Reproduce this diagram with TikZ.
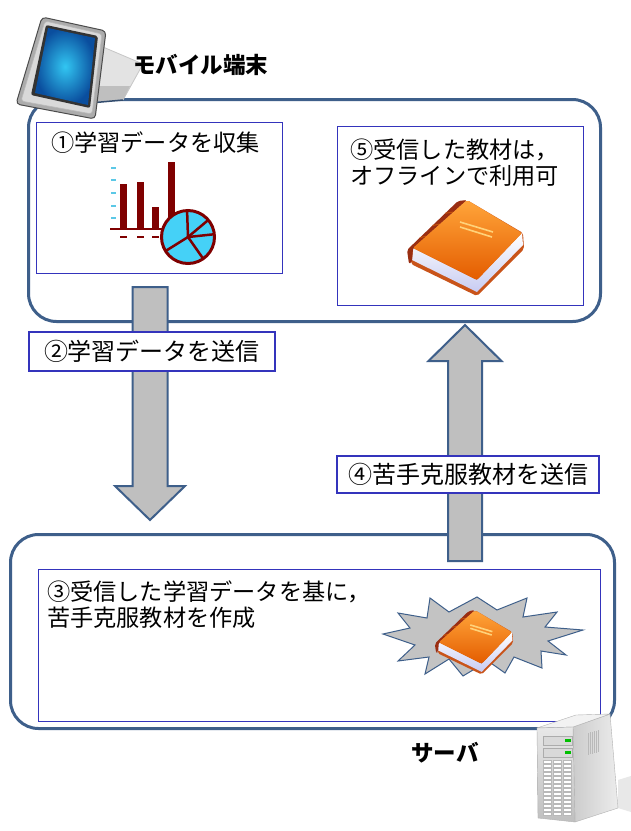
\documentclass[tikz,border=0pt]{standalone}
\usepackage{fontspec}
\newfontfamily\jp{Noto Sans CJK JP}
\usetikzlibrary{calc}
\definecolor{panelline}{HTML}{3E5F8A}
\definecolor{boxblue}{HTML}{3434BC}
\definecolor{arrowgray}{HTML}{BFBFBF}
\definecolor{darkred}{HTML}{7F0000}
\definecolor{piecyan}{HTML}{45D1F7}
\definecolor{tickcyan}{HTML}{5BC8E6}
\definecolor{screenlight}{HTML}{32C6F2}
\definecolor{screendark}{HTML}{0A4E9E}
\definecolor{coverlight}{HTML}{FFA53A}
\definecolor{coverdark}{HTML}{E45C00}
\definecolor{spinecol}{HTML}{9A2E12}
\definecolor{backcol}{HTML}{C9541A}
\definecolor{pagelav}{HTML}{C8CCF2}
\definecolor{stripecol}{HTML}{FFD27A}
\definecolor{burstgray}{HTML}{C3C3C3}
\tikzset{
  panel/.style={draw=panelline, line width=3pt, rounded corners=28pt, anchor=north west, inner sep=0pt},
  stepbox/.style={draw=boxblue, line width=1.4pt, fill=white, anchor=north west, inner sep=0pt},
  tag/.style={draw=boxblue, line width=1.4pt, fill=white, inner sep=0pt, font=\jp\fontsize{24}{26}\selectfont},
  txt/.style={inner sep=0pt, font=\jp\fontsize{23.2}{26}\selectfont, align=left},
  title/.style={inner sep=0pt, font=\jp\bfseries\fontsize{22.5}{26}\selectfont},
  blockarrow/.style={fill=arrowgray, draw=panelline, line width=2pt, line join=miter},
  bookicon/.pic={
    % back cover edge
    \fill[backcol, rounded corners=2pt] (-3,40) -- (53,7) -- (54,-9) -- (7,-56) -- (-59,-24) -- (-58,-8) -- cycle;
    % page block
    \shade[top color=white, bottom color=pagelav] (-57,-8) -- (7,-40) -- (52,7) -- (53,-5) -- (7,-52) -- (-58,-20) -- cycle;
    % spine
    \fill[spinecol, rounded corners=2pt] (-3,40) -- (-12,39) -- (-63,-10) -- (-61,-24) -- (-58,-22) -- (-57,-8) -- cycle;
    \foreach \t in {0.25,0.5,0.75}
      \draw[spinecol!60!orange, line width=1pt] ($(-3,40)!\t!(-57,-8)$) -- ($(-12,39)!\t!(-63,-10)$);
    % front cover
    \shade[top color=coverlight, bottom color=coverdark, rounded corners=2pt] (-3,40) -- (52,7) -- (7,-40) -- (-57,-8) -- cycle;
    \draw[stripecol, line width=1.6pt] (-10,18) -- (23,8) (-10,13) -- (22,3);
  }
}
\begin{document}
\begin{tikzpicture}[x=1pt,y=-1pt]
\useasboundingbox (0,0) rectangle (631,831);
\fill[white] (0,0) rectangle (631,831);

% the two device panels
\node[panel, minimum width=572pt, minimum height=222pt] (mobile) at (27,98) {};
\node[panel, minimum width=604pt, minimum height=194pt] (server) at (9,533) {};

% transfer arrows between the panels
\coordinate (d1) at (150,287);
\coordinate (d2) at (150,520);
\coordinate (u1) at (465,561);
\coordinate (u2) at (465,325);
\draw[blockarrow] ($(d1)+(-17.5,0)$) -- ($(d2)+(-17.5,-34)$) -- ($(d2)+(-35,-34)$) -- (d2)
   -- ($(d2)+(35,-34)$) -- ($(d2)+(17.5,-34)$) -- ($(d1)+(17.5,0)$) -- cycle;
\draw[blockarrow] ($(u1)+(-17,0)$) -- ($(u2)+(-17,36)$) -- ($(u2)+(-36.5,36)$) -- (u2)
   -- ($(u2)+(36.5,36)$) -- ($(u2)+(17,36)$) -- ($(u1)+(17,0)$) -- cycle;

% arrow labels
\node[tag, minimum width=246pt, minimum height=39pt] (send) at (152,351.5) {②学習データを送信};
\node[tag, minimum width=262pt, minimum height=37pt] (back) at (468,474.5) {④苦手克服教材を送信};

% step boxes
\node[stepbox, minimum width=246pt, minimum height=151pt] (collect) at (36,122) {};
\node[stepbox, minimum width=246pt, minimum height=179pt] (offline) at (337,126) {};
\node[stepbox, minimum width=562pt, minimum height=152pt] (create) at (38,569) {};

% step texts
\node[txt, anchor=west] (t1) at (51,143) {①学習データを収集};
\node[txt, anchor=west] (t5) at (350,162.5) {⑤受信した教材は，\\オフラインで利用可};
\node[txt, anchor=west] (t3) at (47,605) {③受信した学習データを基に，\\苦手克服教材を作成};

% chart icon
\foreach \yy in {168,180,193,206,218}
  \draw[tickcyan, line width=2pt] (111,\yy) -- (116,\yy);
\fill[darkred] (120,184) rectangle (127,229);
\fill[darkred] (137,182) rectangle (144,229);
\fill[darkred] (152,207) rectangle (159,229);
\fill[darkred] (168,162) rectangle (175,229);
\draw[darkred, line width=2.2pt] (110,229) -- (166,229);
\foreach \xx in {120,137,152}
  \draw[darkred, line width=2pt] (\xx,237) -- ++(7,0);
\filldraw[fill=piecyan, draw=darkred, line width=3pt] (188,237) circle (26.5);
\begin{scope}[shift={(188,237)}, yscale=-1]
  \foreach \a in {92,40,6,-55,-148}
    \draw[darkred, line width=2.5pt] (0,0) -- (\a:26);
\end{scope}

% book icons
\pic[yscale=-1] at (470,240) {bookicon};
\fill[burstgray, draw=panelline, line width=1pt, line join=miter]
  (383,634) -- (410,628) -- (398,613) -- (427,618) -- (430,598) -- (449,612) -- (477,597)
  -- (497,610) -- (527,598) -- (523,617) -- (557,612) -- (545,627) -- (583,630) -- (548,641)
  -- (566,655) -- (541,651) -- (542,668) -- (514,657) -- (505,673) -- (488,661) -- (463,676)
  -- (449,659) -- (425,674) -- (429,657) -- (398,661) -- (415,645) -- cycle;
\pic[xscale=0.67, yscale=-0.67] at (477,637) {bookicon};

% tablet on its stand
\fill[gray!22] (103,47) -- (143,64) -- (123,100) -- (90,103) -- cycle;
\draw[gray!45, line width=.8pt] (103,47) -- (143,64) -- (123,100);
\fill[gray!50] (92,86) -- (130,86) -- (123,100) -- (90,103) -- cycle;
\draw[panelline!80!black, line width=1.5pt] (90,103) -- (123,100);
\filldraw[fill=gray!65, draw=black!70, line width=1pt, rounded corners=4pt]
  (42,17) -- (106,31) -- (95,119) -- (16,104) -- cycle;
\filldraw[fill=gray!30, draw=gray!55, line width=.6pt, rounded corners=3pt]
  (45,21) -- (102,34) -- (92,114) -- (21,101) -- cycle;
\fill[black!80, rounded corners=2pt] (46,25) -- (98,36) -- (90,108) -- (31,95) -- cycle;
\shade[inner color=screenlight, outer color=screendark] (48,28) -- (95,38) -- (88,105) -- (35,93) -- cycle;

% captions
\node[title, anchor=west] (mobcap) at (133,65) {モバイル端末};
\node[title] (srvcap) at (445,753) {サーバ};

% server tower
\fill[gray!25, opacity=.7] (618,780) -- (631,776) -- (631,812) -- (618,808) -- cycle;
\shade[left color=gray!40, right color=gray!15, draw=gray!60] (573,727) -- (610,714) -- (618,808) -- (575,822) -- cycle;
\filldraw[fill=gray!10, draw=gray!60] (537,728) -- (573,727) -- (610,714) -- (576,715) -- cycle;
\shade[top color=gray!18, bottom color=gray!50, draw=gray!60] (537,728) -- (573,727) -- (575,822) -- (538,818) -- cycle;
\foreach \yy in {736,748} {
  \filldraw[fill=gray!30, draw=gray!65, line width=.5pt] (543,\yy) rectangle (572,\yy+9);
  \fill[green!75!black] (565,\yy+3) rectangle (571,\yy+6);
}
\foreach \c in {543,553,563}
  \foreach \r in {0,...,13}
    \filldraw[fill=white, draw=gray!55, line width=.4pt] (\c,760+\r*4) rectangle +(8,3);
\foreach \i in {0,...,5}
  \draw[gray!55, line width=.6pt] (588+\i*2,733-\i*0.6) -- ++(0,22);
\end{tikzpicture}
\end{document}
